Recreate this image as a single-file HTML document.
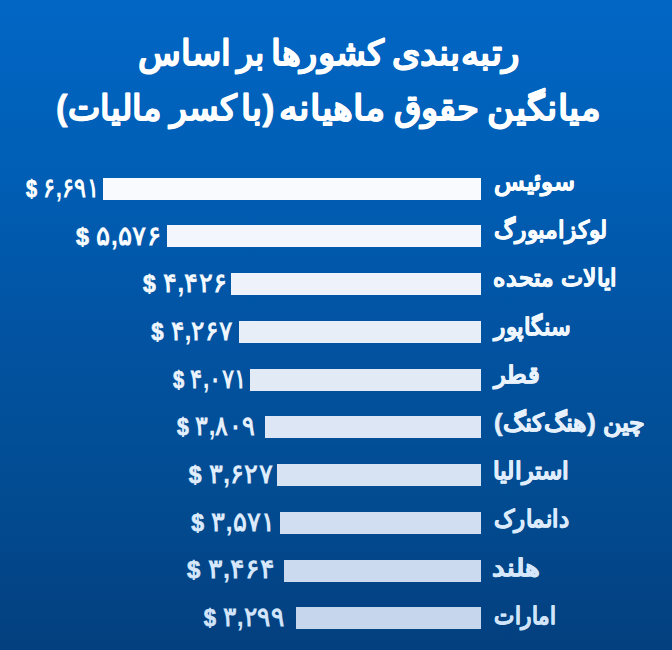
<!DOCTYPE html>
<html lang="fa">
<head>
<meta charset="utf-8">
<title>رتبه‌بندی کشورها بر اساس میانگین حقوق ماهیانه</title>
<style>
html,body{margin:0;padding:0;}
body{width:672px;height:650px;overflow:hidden;background:#02509c;font-family:"Liberation Sans",sans-serif;}
.chart{position:relative;width:672px;height:650px;overflow:hidden;color:#fff;
  background:linear-gradient(180deg,rgb(2,102,196) 0px,rgb(2,102,196) 10px,rgb(0,95,182) 160px,rgb(2,83,162) 330px,rgb(2,76,146) 490px,rgb(3,64,128) 640px,rgb(3,64,128) 650px);}
svg{position:absolute;left:0;top:0;overflow:visible;font-family:"Liberation Sans",sans-serif;font-weight:bold;fill:currentColor;stroke:currentColor;stroke-linejoin:round;}
.title{position:absolute;left:0;top:0;width:672px;height:150px;}
.title text{font-size:35px;stroke-width:0.8px;}
.row{position:absolute;left:0;width:672px;height:22px;}
.bar{position:absolute;height:22px;}
.n{font-size:24.2px;stroke-width:0.6px;}
.v{font-size:27px;stroke-width:0px;}
.d{font-size:24px;stroke-width:0.7px;}
</style>
</head>
<body>
<div class="chart">
<div class="title">
<svg width="672" height="150">
<text x="519.58" y="65.3" direction="rtl" textLength="127.28" lengthAdjust="spacingAndGlyphs">رتبه‌بندی</text>
<text x="384.8" y="65.3" direction="rtl" textLength="114.05" lengthAdjust="spacingAndGlyphs">کشورها</text>
<text x="264.58" y="65.3" direction="rtl" textLength="27.67" lengthAdjust="spacingAndGlyphs">بر</text>
<text x="231.22" y="65.3" direction="rtl" textLength="93.1" lengthAdjust="spacingAndGlyphs">اساس</text>
<text x="600.92" y="119.9" direction="rtl" textLength="113.62" lengthAdjust="spacingAndGlyphs">میانگین</text>
<text x="479.75" y="119.9" direction="rtl" textLength="86.05" lengthAdjust="spacingAndGlyphs">حقوق</text>
<text x="385.1" y="119.9" direction="rtl" textLength="106.4" lengthAdjust="spacingAndGlyphs">ماهیانه</text>
<text x="274.5" y="119.9" direction="rtl" textLength="33.44" lengthAdjust="spacingAndGlyphs">(با</text>
<text x="237.31" y="119.9" direction="rtl" textLength="67.51" lengthAdjust="spacingAndGlyphs">کسر</text>
<text x="161.94" y="119.9" direction="rtl" textLength="105.82" lengthAdjust="spacingAndGlyphs">مالیات)</text>
</svg>
</div>
<div class="row" style="top:177px;color:#feffff">
<div class="bar" style="top:0.7px;left:103px;width:377.5px;background:#f9fafe"></div>
<svg class="txt" width="672" height="22">
<text class="v" x="25.98" y="20.1" textLength="73.27" lengthAdjust="spacingAndGlyphs"><tspan class="d">$</tspan> ۶,۶۹۱</text>
<text class="n" x="574.6" y="13" direction="rtl" textLength="80.48" lengthAdjust="spacingAndGlyphs">سوئیس</text>
</svg>
</div>
<div class="row" style="top:225px;color:#f9fcfe">
<div class="bar" style="top:0.44px;left:167px;width:313.5px;background:#f3f6fc"></div>
<svg class="txt" width="672" height="22">
<text class="v" x="75.98" y="19.73" textLength="85.6" lengthAdjust="spacingAndGlyphs"><tspan class="d">$</tspan> ۵,۵۷۶</text>
<text class="n" x="607.3" y="13.2" direction="rtl" textLength="113.18" lengthAdjust="spacingAndGlyphs">لوکزامبورگ</text>
</svg>
</div>
<div class="row" style="top:273px;color:#f4f9fe">
<div class="bar" style="top:0.18px;left:231.25px;width:249.25px;background:#eef2fa"></div>
<svg class="txt" width="672" height="22">
<text class="v" x="143" y="19.36" textLength="84.24" lengthAdjust="spacingAndGlyphs"><tspan class="d">$</tspan> ۴,۴۲۶</text>
<text class="n" x="617.3" y="13.4" direction="rtl" textLength="123.84" lengthAdjust="spacingAndGlyphs">ایالات متحده</text>
</svg>
</div>
<div class="row" style="top:320px;color:#eff6fe">
<div class="bar" style="top:0.92px;left:238.75px;width:241.75px;background:#e8eef8"></div>
<svg class="txt" width="672" height="22">
<text class="v" x="151.25" y="19.99" textLength="81.77" lengthAdjust="spacingAndGlyphs"><tspan class="d">$</tspan> ۴,۲۶۷</text>
<text class="n" x="570.15" y="14.6" direction="rtl" textLength="76.4" lengthAdjust="spacingAndGlyphs">سنگاپور</text>
</svg>
</div>
<div class="row" style="top:368px;color:#eaf3fd">
<div class="bar" style="top:0.66px;left:250px;width:230.5px;background:#e2eaf6"></div>
<svg class="txt" width="672" height="22">
<text class="v" x="173" y="19.62" textLength="74.04" lengthAdjust="spacingAndGlyphs"><tspan class="d">$</tspan> ۴,۰۷۱</text>
<text class="n" x="538.88" y="14.8" direction="rtl" textLength="45.13" lengthAdjust="spacingAndGlyphs">قطر</text>
</svg>
</div>
<div class="row" style="top:416px;color:#e5f0fc">
<div class="bar" style="top:0.4px;left:265px;width:215.5px;background:#dce6f4"></div>
<svg class="txt" width="672" height="22">
<text class="v" x="177" y="19.25" textLength="78.02" lengthAdjust="spacingAndGlyphs"><tspan class="d">$</tspan> ۳,۸۰۹</text>
<text class="n" x="645.15" y="15" direction="rtl" textLength="151.03" lengthAdjust="spacingAndGlyphs">چین (هنگ‌کنگ)</text>
</svg>
</div>
<div class="row" style="top:464px;color:#e0edfc">
<div class="bar" style="top:0.14px;left:277px;width:203.5px;background:#d7e2f3"></div>
<svg class="txt" width="672" height="22">
<text class="v" x="188.75" y="18.88" textLength="84.27" lengthAdjust="spacingAndGlyphs"><tspan class="d">$</tspan> ۳,۶۲۷</text>
<text class="n" x="569.24" y="15.2" direction="rtl" textLength="75.96" lengthAdjust="spacingAndGlyphs">استرالیا</text>
</svg>
</div>
<div class="row" style="top:511px;color:#dbeafc">
<div class="bar" style="top:0.88px;left:280px;width:200.5px;background:#d1def1"></div>
<svg class="txt" width="672" height="22">
<text class="v" x="191.25" y="19.51" textLength="84.59" lengthAdjust="spacingAndGlyphs"><tspan class="d">$</tspan> ۳,۵۷۱</text>
<text class="n" x="569.45" y="16.4" direction="rtl" textLength="75.33" lengthAdjust="spacingAndGlyphs">دانمارک</text>
</svg>
</div>
<div class="row" style="top:559px;color:#d6e7fb">
<div class="bar" style="top:0.62px;left:284.25px;width:196.25px;background:#cbdaef"></div>
<svg class="txt" width="672" height="22">
<text class="v" x="187" y="19.14" textLength="88.02" lengthAdjust="spacingAndGlyphs"><tspan class="d">$</tspan> ۳,۴۶۴</text>
<text class="n" x="540.15" y="16.6" direction="rtl" textLength="47.87" lengthAdjust="spacingAndGlyphs">هلند</text>
</svg>
</div>
<div class="row" style="top:607px;color:#d1e4fa">
<div class="bar" style="top:0.36px;left:295.75px;width:184.75px;background:#c6d6ed"></div>
<svg class="txt" width="672" height="22">
<text class="v" x="203.75" y="18.77" textLength="81.27" lengthAdjust="spacingAndGlyphs"><tspan class="d">$</tspan> ۳,۲۹۹</text>
<text class="n" x="555.88" y="16.8" direction="rtl" textLength="61.76" lengthAdjust="spacingAndGlyphs">امارات</text>
</svg>
</div>
</div>
</body>
</html>
